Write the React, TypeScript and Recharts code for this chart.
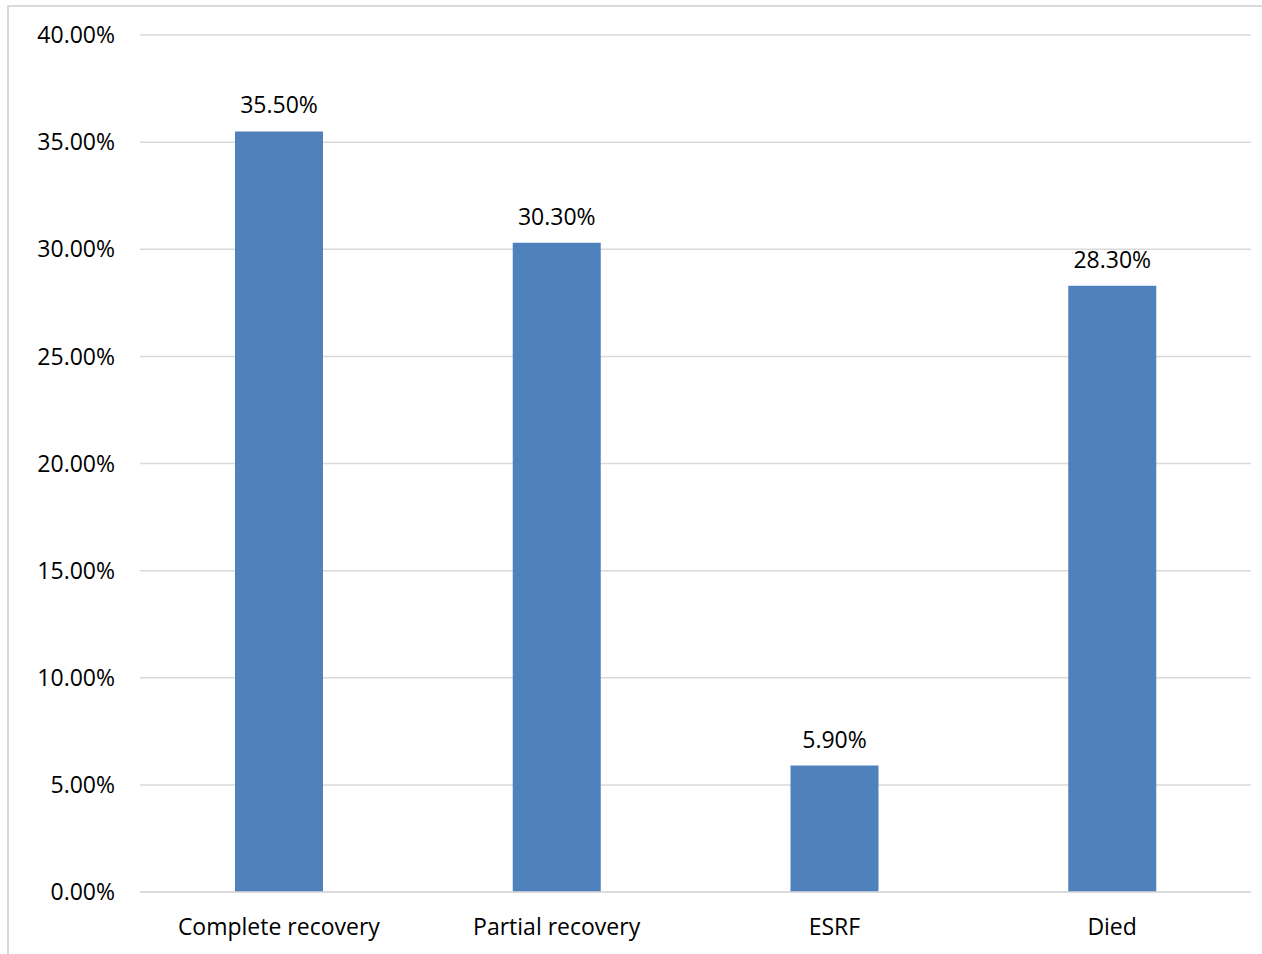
import React from "react";
import { BarChart, Bar, XAxis, YAxis, CartesianGrid, LabelList } from "recharts";

const categories = ["Complete recovery", "Partial recovery", "ESRF", "Died"];
const outcomeValues = [35.5, 30.3, 5.9, 28.3];
const yTicks = [0, 5, 10, 15, 20, 25, 30, 35, 40];

const data = categories.map((name, i) => ({ name, value: outcomeValues[i] }));

const FONT = "'Open Sans', sans-serif";
const pct = (v: number) => `${Number(v).toFixed(2)}%`;

export default function App() {
  return (
    <div style={{ position: "fixed", inset: 0, overflow: "hidden", background: "#fff" }}>
      <div
        style={{
          position: "absolute",
          left: 7,
          top: 5,
          width: 1300,
          height: 1000,
          border: "2px solid #d9d9d9",
        }}
      />
      <div style={{ position: "absolute", left: 0, top: 0 }}>
        <BarChart
          width={1262}
          height={954}
          data={data}
          margin={{ top: 35, right: 11, bottom: 0, left: 0 }}
          style={{ fontFamily: FONT }}
        >
          <CartesianGrid vertical={false} stroke="#d9d9d9" strokeWidth={1.5} />
          <XAxis
            dataKey="name"
            height={62}
            tickLine={false}
            tickSize={0}
            tickMargin={27}
            axisLine={{ stroke: "#d9d9d9", strokeWidth: 1.5 }}
            tick={{ fill: "#000", fontSize: 23 }}
            interval={0}
          />
          <YAxis
            width={140}
            domain={[0, 40]}
            ticks={yTicks}
            tickFormatter={pct}
            axisLine={false}
            tickLine={false}
            tickSize={0}
            tickMargin={25}
            tick={{ fill: "#000", fontSize: 23 }}
          />
          <Bar dataKey="value" fill="#4f81bd" barSize={88} isAnimationActive={false}>
            <LabelList
              dataKey="value"
              position="top"
              offset={18}
              formatter={(v: any) => pct(v)}
              style={{ fill: "#000", fontSize: 23, fontFamily: FONT }}
            />
          </Bar>
        </BarChart>
      </div>
    </div>
  );
}
